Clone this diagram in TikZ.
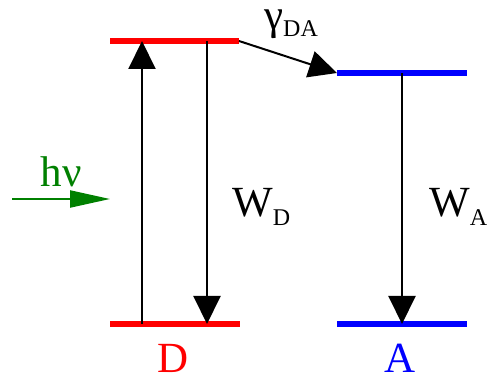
\documentclass[tikz,border=0pt]{standalone}
\usepackage{fontspec}
\setmainfont{Liberation Serif}
\usetikzlibrary{arrows.meta}
\begin{document}
\begin{tikzpicture}[x=1pt,y=-1pt,
  level/.style={line width=6pt},
  trans/.style={line width=2pt,-{Triangle[length=28pt,width=27pt]}},
  big/.style={inner sep=0pt,font=\fontsize{43}{48}\selectfont},
  sub/.style={}]
\useasboundingbox (0,0) rectangle (490,379);
% level coordinates
\coordinate (D1l) at (110,41);  \coordinate (D1r) at (239,41);
\coordinate (A1l) at (337,73);  \coordinate (A1r) at (467,73);
\coordinate (D0l) at (110,324); \coordinate (D0r) at (240,324);
\coordinate (A0l) at (337,324); \coordinate (A0r) at (467,324);
\draw[level,red]  (D1l) -- (D1r);
\draw[level,blue] (A1l) -- (A1r);
\draw[level,red]  (D0l) -- (D0r);
\draw[level,blue] (A0l) -- (A0r);
% transition end points
\coordinate (upB) at (142,324); \coordinate (upT) at (142,41);
\coordinate (dnT) at (207,41);  \coordinate (dnB) at (207,324);
\coordinate (aT) at (402,73);   \coordinate (aB) at (402,324);
\draw[trans] (upB) -- (upT);
\draw[trans] (dnT) -- (dnB);
\draw[trans] (aT) -- (aB);
\draw[trans] (D1r) -- (A1l);
% photon
\coordinate (hvS) at (12,199); \coordinate (hvE) at (110,199);
\draw[line width=2.2pt,green!50!black,-{Triangle[length=40pt,width=17pt]}] (hvS) -- (hvE);
% labels
\node[big,anchor=base,text=green!50!black] (hv) at (61,187) {hν};
\node[big,anchor=base west] (gDA) at (264,30) {γ\raisebox{-7pt}{\fontsize{24}{24}\selectfont DA}};
\node[big,anchor=base west] (WD) at (232,217) {W\raisebox{-9pt}{\fontsize{24}{24}\selectfont D}};
\node[big,anchor=base west] (WA) at (429,217) {W\raisebox{-9pt}{\fontsize{24}{24}\selectfont A}};
\node[big,anchor=base,text=red] (Dlab) at (173,372) {D};
\node[big,anchor=base,text=blue] (Alab) at (400,372) {A};
\end{tikzpicture}
\end{document}
